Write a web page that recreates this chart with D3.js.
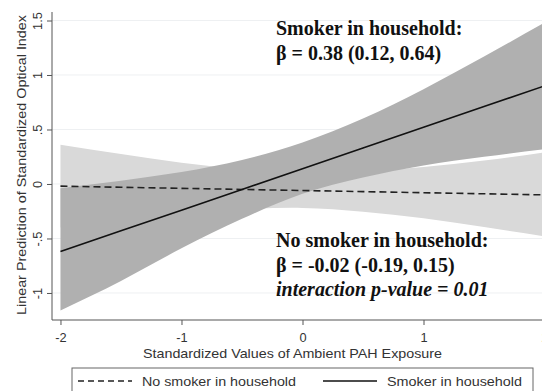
<!DOCTYPE html>
<html>
<head>
<meta charset="utf-8">
<script src="https://cdn.jsdelivr.net/npm/d3@7"></script>
<style>
  html, body { margin: 0; padding: 0; background: #fff; }
  svg { display: block; }
</style>
</head>
<body>
<svg id="chart" width="542" height="391"></svg>
<script>
// Standardized ambient PAH exposure at which predictions are evaluated
const pahValues = [-2, -1.5, -1, -0.5, 0, 0.5, 1, 1.5, 2];

// Smoker in household: linear prediction and 95% CI
const smokerFit   = [-0.62, -0.43, -0.24, -0.05, 0.14, 0.33, 0.52, 0.71, 0.90];
const smokerUpper = [-0.04, 0.03, 0.11, 0.22, 0.38, 0.60, 0.87, 1.17, 1.48];
const smokerLower = [-1.16, -0.89, -0.59, -0.32, -0.09, 0.06, 0.17, 0.25, 0.32];

// No smoker in household: linear prediction and 95% CI
const noSmokerFit   = [-0.02, -0.03, -0.04, -0.05, -0.06, -0.07, -0.08, -0.09, -0.10];
const noSmokerUpper = [0.36, 0.275, 0.195, 0.134, 0.10, 0.114, 0.155, 0.215, 0.29];
const noSmokerLower = [-0.40, -0.335, -0.275, -0.234, -0.22, -0.254, -0.315, -0.395, -0.48];

// Axis ticks
const xTicks = [-2, -1, 0, 1, 2];
const xTickLabels = ["-2", "-1", "0", "1", "2"];
const yTicks = [-1, -0.5, 0, 0.5, 1, 1.5];
const yTickLabels = ["-1", "-.5", "0", ".5", "1", "1.5"];

const svg = d3.select("#chart");
const sans = "Liberation Sans, Arial, Helvetica, sans-serif";
const serif = "Liberation Serif, Times New Roman, serif";

const plot = { left: 52, right: 553, top: 12, bottom: 320 };

const x = d3.scaleLinear().domain([-2.07, 2.07]).range([plot.left, plot.right]);
const y = d3.scaleLinear().domain([-1.248, 1.578]).range([plot.bottom, plot.top]);

// Horizontal grid lines
svg.append("g")
  .selectAll("line")
  .data(yTicks)
  .join("line")
  .attr("x1", plot.left).attr("x2", plot.right)
  .attr("y1", d => y(d)).attr("y2", d => y(d))
  .attr("stroke", "#eef0f2").attr("stroke-width", 1);

const rows = (fit, lo, hi) => pahValues.map((v, i) => ({ x: v, fit: fit[i], lo: lo[i], hi: hi[i] }));
const noSmoker = rows(noSmokerFit, noSmokerLower, noSmokerUpper);
const smoker = rows(smokerFit, smokerLower, smokerUpper);

const band = d3.area()
  .x(d => x(d.x)).y0(d => y(d.lo)).y1(d => y(d.hi))
  .curve(d3.curveNatural);
const fitLine = d3.line().x(d => x(d.x)).y(d => y(d.fit));

// Confidence bands
svg.append("path").datum(noSmoker).attr("d", band).attr("fill", "#d9d9d9");
svg.append("path").datum(smoker).attr("d", band).attr("fill", "#b0b0b0");

// Fitted lines
svg.append("path").datum(noSmoker).attr("d", fitLine)
  .attr("fill", "none").attr("stroke", "#222").attr("stroke-width", 1.6)
  .attr("stroke-dasharray", "7,4");
svg.append("path").datum(smoker).attr("d", fitLine)
  .attr("fill", "none").attr("stroke", "#111").attr("stroke-width", 1.6);

// Axes
const xAxis = svg.append("g")
  .attr("transform", `translate(0,${plot.bottom})`)
  .call(d3.axisBottom(x).tickValues(xTicks).tickSize(5).tickPadding(8)
    .tickFormat((d, i) => xTickLabels[i]));
const yAxis = svg.append("g")
  .attr("transform", `translate(${plot.left},0)`)
  .call(d3.axisLeft(y).tickValues(yTicks).tickSize(5).tickFormat((d, i) => yTickLabels[i]));

[xAxis, yAxis].forEach(g => {
  g.select(".domain").attr("stroke", "#555").attr("stroke-width", 1);
  g.selectAll(".tick line").attr("stroke", "#555");
  g.selectAll("text").attr("fill", "#333").style("font-family", sans).style("font-size", "12.8px");
});
xAxis.select(".domain").attr("d", `M${plot.left},0H${plot.right}`);
yAxis.select(".domain").attr("d", `M0,${plot.top}V${plot.bottom}`);

yAxis.selectAll(".tick text")
  .attr("x", 0).attr("dy", null)
  .attr("text-anchor", "middle")
  .attr("transform", "translate(-10,0) rotate(-90)");

// Sans labels are set slightly wide, stretched to their set length
function wideText(sel, len) {
  return sel.style("font-family", sans).style("font-size", "13px").attr("fill", "#333")
    .attr("textLength", len).attr("lengthAdjust", "spacingAndGlyphs");
}

// Axis titles
svg.append("text")
  .attr("transform", `translate(25.5,165) rotate(-90)`)
  .attr("x", -150).attr("y", 0)
  .call(wideText, 300)
  .text("Linear Prediction of Standardized Optical Index");

svg.append("text")
  .attr("x", 143).attr("y", 357.5)
  .call(wideText, 299)
  .text("Standardized Values of Ambient PAH Exposure");

// Effect annotations
const notes = [
  { text: "Smoker in household:", y: 35, italic: false },
  { text: "β = 0.38 (0.12, 0.64)", y: 60, italic: false },
  { text: "No smoker in household:", y: 247, italic: false },
  { text: "β = -0.02 (-0.19, 0.15)", y: 272, italic: false },
  { text: "interaction p-value = 0.01", y: 296, italic: true }
];
svg.append("g").selectAll("text")
  .data(notes)
  .join("text")
  .attr("x", 276).attr("y", d => d.y)
  .style("font-family", serif).style("font-size", "20px")
  .style("font-weight", "bold")
  .style("font-style", d => d.italic ? "italic" : "normal")
  .attr("fill", "#111")
  .text(d => d.text);

// Legend
const legend = svg.append("g");
legend.append("rect")
  .attr("x", 72).attr("y", 368).attr("width", 461).attr("height", 40)
  .attr("fill", "#fff").attr("stroke", "#666").attr("stroke-width", 1);
legend.append("line")
  .attr("x1", 78).attr("x2", 132).attr("y1", 381).attr("y2", 381)
  .attr("stroke", "#222").attr("stroke-width", 1.4).attr("stroke-dasharray", "6,4");
legend.append("text")
  .attr("x", 142).attr("y", 386)
  .call(wideText, 154)
  .text("No smoker in household");
legend.append("line")
  .attr("x1", 323).attr("x2", 377).attr("y1", 381).attr("y2", 381)
  .attr("stroke", "#111").attr("stroke-width", 1.4);
legend.append("text")
  .attr("x", 387).attr("y", 386)
  .call(wideText, 135)
  .text("Smoker in household");
</script>
</body>
</html>
